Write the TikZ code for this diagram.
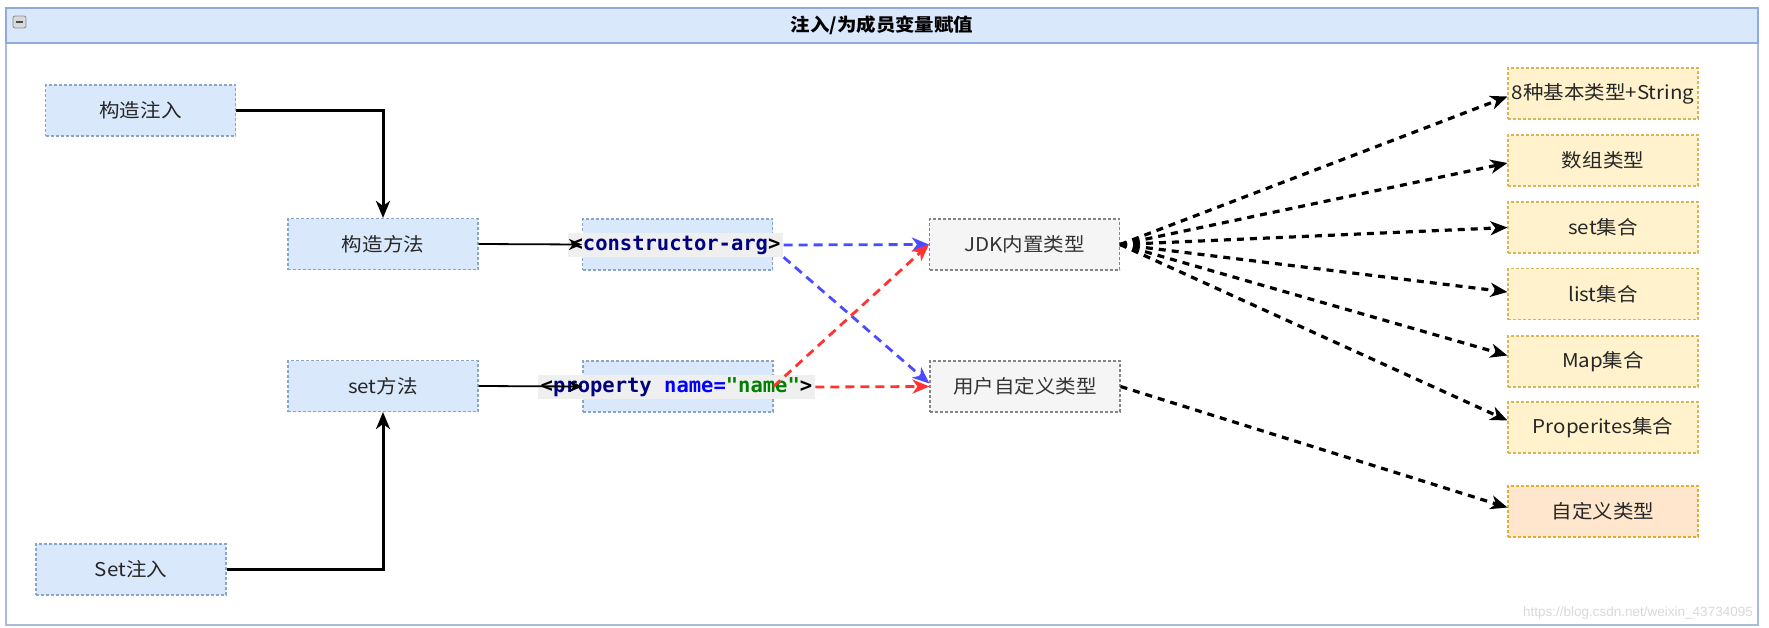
\documentclass[tikz,border=0pt]{standalone}
\usepackage{fontspec}
\setmainfont{Noto Sans CJK SC}[FakeStretch=1.08]
\newfontfamily\cjk{Noto Sans CJK SC}[FakeStretch=1.08]
\newfontfamily\codefont{DejaVu Sans Mono}
\newfontfamily\wmfont{Liberation Sans}
\usetikzlibrary{arrows.meta,calc}
\definecolor{blfill}{HTML}{DAE8FC}
\definecolor{bldraw}{HTML}{6C8EBF}
\definecolor{grfill}{HTML}{F5F5F5}
\definecolor{grdraw}{HTML}{666666}
\definecolor{grtext}{HTML}{333333}
\definecolor{yefill}{HTML}{FFF2CC}
\definecolor{yedraw}{HTML}{D6B656}
\definecolor{pcfill}{HTML}{FFE6CC}
\definecolor{pcdraw}{HTML}{D79B00}
\definecolor{codebg}{HTML}{EFEFEF}
\definecolor{navy}{HTML}{000080}
\definecolor{attrblue}{HTML}{0000FF}
\definecolor{valgreen}{HTML}{008000}
\definecolor{bluec}{HTML}{4C4CFF}
\definecolor{redc}{HTML}{FF3333}
\definecolor{frameline}{HTML}{A9BCD9}
\definecolor{hdrline}{HTML}{8FAADC}
\definecolor{wmgray}{HTML}{D9D9D9}
\tikzset{
  box/.style={draw, dash pattern=on 3pt off 2pt, line width=1.1pt,
    minimum width=190pt, minimum height=51pt, inner sep=0pt,
    font=\cjk\fontsize{19}{22}\selectfont},
  bluebox/.style={box, fill=blfill, draw=bldraw!80, text=black!85},
  greybox/.style={box, fill=grfill, draw=grdraw!80, text=grtext},
  yelbox/.style={box, fill=yefill, draw=yedraw, text=black!85},
  peachbox/.style={box, fill=pcfill, draw=pcdraw!80, text=black!85},
  codelabel/.style={fill=codebg, inner xsep=3pt, inner ysep=0pt,
    minimum height=24pt, font=\codefont\bfseries\fontsize{20.5}{24}\selectfont},
  bigtip/.style={-{Stealth[length=17pt,width=14pt,inset=5pt]}},
  solidarr/.style={line width=3pt, bigtip},
  thinarr/.style={line width=1.8pt, -{Stealth[length=13pt,width=11pt,inset=4pt]}},
  bluedash/.style={draw=bluec, line width=2.8pt, dash pattern=on 9pt off 6pt, bigtip},
  reddash/.style={draw=redc, line width=2.8pt, dash pattern=on 9pt off 6pt, bigtip},
  blkdash/.style={draw=black, line width=3.2pt, dash pattern=on 7pt off 6pt, bigtip}
}
\begin{document}
\begin{tikzpicture}[x=1pt,y=-1pt]
\useasboundingbox[fill=white] (0,0) rectangle (1769,627);
% frame and header
\draw[draw=frameline, line width=1.2pt] (6,8) rectangle (1758,625);
\draw[fill=blfill, draw=hdrline, line width=1.6pt] (6,8) rectangle (1758,43);
\node[font=\cjk\bfseries\fontsize{18}{22}\selectfont] (title) at (882,25.5) {注入/为成员变量赋值};
\draw[fill=black!15, draw=black!45, line width=0.8pt, rounded corners=2pt] (13,16) rectangle (26,28);
\draw[draw=black!70, line width=1.6pt] (16,22) -- (23,22);
% left column
\node[bluebox] (gz) at (140.5,110.5) {构造注入};
\node[bluebox] (gf) at (383,244) {构造方法};
\node[bluebox] (sf) at (383,386) {set方法};
\node[bluebox] (sz) at (131,569.5) {Set注入};
% code boxes
\node[bluebox] (cabox) at (677.5,244.5) {};
\node[bluebox] (prbox) at (678,386.5) {};
\node[codelabel] (calabel) at (675.5,245) {<\textcolor{navy}{constructor-arg}>};
\node[codelabel] (prlabel) at (676.5,387) {<\textcolor{navy}{property} \textcolor{attrblue}{name=}\textcolor{valgreen}{"name"}>};
% type boxes
\node[greybox] (jdk) at (1024.5,244.5) {JDK内置类型};
\node[greybox] (user) at (1025,386.5) {用户自定义类型};
% right column
\node[yelbox] (t1) at (1603,93.5) {8种基本类型+String};
\node[yelbox] (t2) at (1603,160.5) {数组类型};
\node[yelbox] (t3) at (1603,227.5) {set集合};
\node[yelbox] (t4) at (1603,294) {list集合};
\node[yelbox] (t5) at (1603,361.5) {Map集合};
\node[yelbox] (t6) at (1603,427.5) {Properites集合};
\node[peachbox] (t7) at (1603,511.5) {自定义类型};
% connectors
\draw[solidarr] (gz.east) -| (gf.north);
\draw[solidarr] (sz.east) -| (sf.south);
\draw[thinarr] (gf.east) -- (cabox.west);
\draw[thinarr] (sf.east) -- (prbox.west);
\draw[bluedash] (calabel.east) -- (jdk.west);
\draw[bluedash] (calabel.south east) -- ($(user.west)+(0,-3)$);
\draw[reddash] (prbox.east) -- (jdk.west);
\draw[reddash] (prlabel.east) -- (user.west);
\draw[blkdash] (jdk.east) -- ($(t1.west)+(0,3)$);
\draw[blkdash] (jdk.east) -- ($(t2.west)+(0,2.5)$);
\draw[blkdash] (jdk.east) -- (t3.west);
\draw[blkdash] (jdk.east) -- ($(t4.west)+(0,-2)$);
\draw[blkdash] (jdk.east) -- ($(t5.west)+(0,-6)$);
\draw[blkdash] (jdk.east) -- ($(t6.west)+(0,-7)$);
\draw[blkdash] (user.east) -- ($(t7.west)+(0,-4)$);
% watermark
\node[anchor=east, text=wmgray, inner sep=0pt, font=\wmfont\fontsize{13.5}{16}\selectfont] (wm) at (1753,613) {https://blog.csdn.net/weixin\_43734095};
\end{tikzpicture}
\end{document}
